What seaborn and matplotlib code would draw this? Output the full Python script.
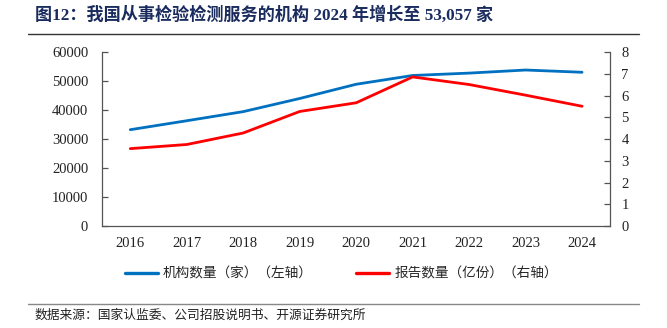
import matplotlib
matplotlib.use("Agg")
import matplotlib.pyplot as plt
import seaborn as sns
import pandas as pd
from matplotlib.lines import Line2D

years = ["2016", "2017", "2018", "2019", "2020", "2021", "2022", "2023", "2024"]
institutions = [33235, 36327, 39472, 44007, 48919, 51949, 52769, 53834, 53057]
reports = [3.56, 3.75, 4.28, 5.27, 5.67, 6.86, 6.51, 6.02, 5.51]
left_ticks = [0, 10000, 20000, 30000, 40000, 50000, 60000]
right_ticks = [0, 1, 2, 3, 4, 5, 6, 7, 8]
label_inst = "机构数量（家）（左轴）"
label_rep = "报告数量（亿份）（右轴）"
title = "图12：我国从事检验检测服务的机构 2024 年增长至 53,057 家"
source = "数据来源：国家认监委、公司招股说明书、开源证券研究所"

df = pd.DataFrame({"year": years, "inst": institutions, "rep": reports})

sns.set_theme(style="white")
plt.rcParams["font.family"] = ["Liberation Serif", "Noto Sans CJK SC", "DejaVu Sans"]
plt.rcParams["axes.unicode_minus"] = False

BLUE = "#0070C0"
RED = "#FF0000"
NAVY = "#1A2B5E"

fig = plt.figure(figsize=(6.67, 3.28), dpi=100)
ax = fig.add_axes([0.153, 0.311, 0.762, 0.530])
ax2 = ax.twinx()

sns.lineplot(data=df, x="year", y="inst", ax=ax, color=BLUE, linewidth=2.0, sort=False)
sns.lineplot(data=df, x="year", y="rep", ax=ax2, color=RED, linewidth=2.0, sort=False)

ax.set_xlim(-0.5, len(years) - 0.5)
ax.set_ylim(0, 60000)
ax2.set_ylim(0, 8)
ax.set_yticks(left_ticks)
ax.set_yticklabels([str(v) for v in left_ticks])
ax2.set_yticks(right_ticks)
ax2.set_yticklabels([str(v) for v in right_ticks])
ax.set_xlabel("")
ax.set_ylabel("")
ax2.set_ylabel("")

for a in (ax, ax2):
    a.grid(False)
    a.set_facecolor("none")
    for s in a.spines.values():
        s.set_visible(False)
    a.tick_params(labelsize=10.5, colors="#222222")

ax.spines["left"].set_visible(True)
ax.spines["bottom"].set_visible(True)
ax2.spines["right"].set_visible(True)
for s in (ax.spines["left"], ax.spines["bottom"], ax2.spines["right"]):
    s.set_color("#555555")
    s.set_linewidth(0.9)

ax.tick_params(axis="y", direction="in", length=4, width=0.9, color="#555555", pad=10)
ax.tick_params(axis="x", length=0, pad=8)
ax2.tick_params(axis="y", direction="in", length=4, width=0.9, color="#555555", pad=8)

handles = [Line2D([0], [0], color=BLUE, lw=2.4), Line2D([0], [0], color=RED, lw=2.4)]
fig.legend(handles, [label_inst, label_rep], loc="center", bbox_to_anchor=(0.512, 0.165),
           ncol=2, frameon=False, handlelength=2.4, handletextpad=0.4,
           columnspacing=3.2, prop={"family": ["Noto Sans CJK SC"], "size": 9.8})

fig.text(0.052, 0.953, title, fontsize=12.3, fontweight="bold", color=NAVY,
         ha="left", va="center", family=["Liberation Serif", "Noto Sans CJK SC"])
fig.add_artist(Line2D([0.042, 0.958], [0.897, 0.897], color="#333333", lw=1.0, transform=fig.transFigure))
fig.add_artist(Line2D([0.042, 0.958], [0.073, 0.073], color="#888888", lw=1.0, transform=fig.transFigure))
fig.text(0.052, 0.038, source, fontsize=9.2, color="#222222", ha="left", va="center",
         family=["Noto Sans CJK SC"])

fig.savefig("out.png", dpi=100)
